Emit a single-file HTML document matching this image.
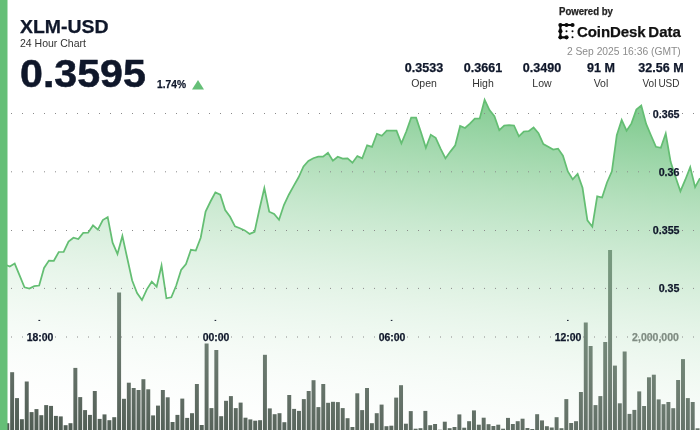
<!DOCTYPE html>
<html><head><meta charset="utf-8"><style>
html,body{margin:0;padding:0;background:#fff;}
body{width:700px;height:430px;position:relative;overflow:hidden;font-family:"Liberation Sans",sans-serif;color:#0f172a;}
.t{position:absolute;white-space:nowrap;line-height:1;}
#txt{position:absolute;left:0;top:0;width:700px;height:430px;will-change:transform;}
.b{font-weight:bold;-webkit-text-stroke:0.25px currentColor;}
.c{transform:translateX(-50%);}
.r{transform:translateX(-100%);}
.l{transform-origin:0 0;}
svg{position:absolute;left:0;top:0;}
</style></head><body>
<svg width="700" height="430" viewBox="0 0 700 430">
<defs><linearGradient id="g" gradientUnits="userSpaceOnUse" x1="485" y1="100.55" x2="443.3" y2="479.6">
<stop offset="0.0000" stop-color="rgb(101,191,119)" stop-opacity="0.8000"/><stop offset="0.0312" stop-color="rgb(106,193,123)" stop-opacity="0.7750"/><stop offset="0.0625" stop-color="rgb(111,195,128)" stop-opacity="0.7500"/><stop offset="0.0938" stop-color="rgb(115,197,132)" stop-opacity="0.7250"/><stop offset="0.1250" stop-color="rgb(120,199,136)" stop-opacity="0.7000"/><stop offset="0.1562" stop-color="rgb(125,201,140)" stop-opacity="0.6750"/><stop offset="0.1875" stop-color="rgb(130,203,144)" stop-opacity="0.6500"/><stop offset="0.2188" stop-color="rgb(135,205,149)" stop-opacity="0.6250"/><stop offset="0.2500" stop-color="rgb(140,207,153)" stop-opacity="0.6000"/><stop offset="0.2812" stop-color="rgb(144,209,157)" stop-opacity="0.5750"/><stop offset="0.3125" stop-color="rgb(149,211,162)" stop-opacity="0.5500"/><stop offset="0.3438" stop-color="rgb(154,213,166)" stop-opacity="0.5250"/><stop offset="0.3750" stop-color="rgb(159,215,170)" stop-opacity="0.5000"/><stop offset="0.4062" stop-color="rgb(164,217,174)" stop-opacity="0.4750"/><stop offset="0.4375" stop-color="rgb(168,219,178)" stop-opacity="0.4500"/><stop offset="0.4688" stop-color="rgb(173,221,183)" stop-opacity="0.4250"/><stop offset="0.5000" stop-color="rgb(178,223,187)" stop-opacity="0.4000"/><stop offset="0.5312" stop-color="rgb(183,225,191)" stop-opacity="0.3750"/><stop offset="0.5625" stop-color="rgb(188,227,196)" stop-opacity="0.3500"/><stop offset="0.5938" stop-color="rgb(192,229,200)" stop-opacity="0.3250"/><stop offset="0.6250" stop-color="rgb(197,231,204)" stop-opacity="0.3000"/><stop offset="0.6562" stop-color="rgb(202,233,208)" stop-opacity="0.2750"/><stop offset="0.6875" stop-color="rgb(207,235,212)" stop-opacity="0.2500"/><stop offset="0.7188" stop-color="rgb(212,237,217)" stop-opacity="0.2250"/><stop offset="0.7500" stop-color="rgb(216,239,221)" stop-opacity="0.2000"/><stop offset="0.7812" stop-color="rgb(221,241,225)" stop-opacity="0.1750"/><stop offset="0.8125" stop-color="rgb(226,243,230)" stop-opacity="0.1500"/><stop offset="0.8438" stop-color="rgb(231,245,234)" stop-opacity="0.1250"/><stop offset="0.8750" stop-color="rgb(236,247,238)" stop-opacity="0.1000"/><stop offset="0.9062" stop-color="rgb(241,249,242)" stop-opacity="0.0750"/><stop offset="0.9375" stop-color="rgb(245,251,246)" stop-opacity="0.0500"/><stop offset="0.9688" stop-color="rgb(250,253,251)" stop-opacity="0.0250"/><stop offset="1.0000" stop-color="rgb(255,255,255)" stop-opacity="0.0000"/></linearGradient></defs>
<g fill="#4e5b52"><rect x="0.45" y="420.00" width="3.96" height="10.00"/><rect x="5.31" y="423.20" width="3.96" height="6.80"/><rect x="10.17" y="372.20" width="3.96" height="57.80"/><rect x="15.03" y="398.10" width="3.96" height="31.90"/><rect x="19.89" y="419.20" width="3.96" height="10.80"/><rect x="24.76" y="381.50" width="3.96" height="48.50"/><rect x="29.62" y="412.10" width="3.96" height="17.90"/><rect x="34.48" y="409.10" width="3.96" height="20.90"/><rect x="39.34" y="415.20" width="3.96" height="14.80"/><rect x="44.20" y="405.10" width="3.96" height="24.90"/><rect x="49.06" y="405.90" width="3.96" height="24.10"/><rect x="53.92" y="415.90" width="3.96" height="14.10"/><rect x="58.78" y="416.40" width="3.96" height="13.60"/><rect x="63.64" y="425.20" width="3.96" height="4.80"/><rect x="68.51" y="423.20" width="3.96" height="6.80"/><rect x="73.37" y="367.90" width="3.96" height="62.10"/><rect x="78.23" y="397.10" width="3.96" height="32.90"/><rect x="83.09" y="410.10" width="3.96" height="19.90"/><rect x="87.95" y="414.90" width="3.96" height="15.10"/><rect x="92.81" y="391.00" width="3.96" height="39.00"/><rect x="97.67" y="418.90" width="3.96" height="11.10"/><rect x="102.53" y="414.40" width="3.96" height="15.60"/><rect x="107.39" y="420.20" width="3.96" height="9.80"/><rect x="112.26" y="417.20" width="3.96" height="12.80"/><rect x="117.12" y="292.50" width="3.96" height="137.50"/><rect x="121.98" y="398.80" width="3.96" height="31.20"/><rect x="126.84" y="382.70" width="3.96" height="47.30"/><rect x="131.70" y="388.00" width="3.96" height="42.00"/><rect x="136.56" y="390.00" width="3.96" height="40.00"/><rect x="141.42" y="379.20" width="3.96" height="50.80"/><rect x="146.28" y="389.30" width="3.96" height="40.70"/><rect x="151.14" y="415.40" width="3.96" height="14.60"/><rect x="156.01" y="405.60" width="3.96" height="24.40"/><rect x="160.87" y="390.00" width="3.96" height="40.00"/><rect x="165.73" y="397.30" width="3.96" height="32.70"/><rect x="170.59" y="422.00" width="3.96" height="8.00"/><rect x="175.45" y="414.90" width="3.96" height="15.10"/><rect x="180.31" y="398.60" width="3.96" height="31.40"/><rect x="185.17" y="417.90" width="3.96" height="12.10"/><rect x="190.03" y="413.20" width="3.96" height="16.80"/><rect x="194.89" y="384.00" width="3.96" height="46.00"/><rect x="199.76" y="425.00" width="3.96" height="5.00"/><rect x="204.62" y="343.50" width="3.96" height="86.50"/><rect x="209.48" y="408.10" width="3.96" height="21.90"/><rect x="214.34" y="350.00" width="3.96" height="80.00"/><rect x="219.20" y="416.20" width="3.96" height="13.80"/><rect x="224.06" y="400.80" width="3.96" height="29.20"/><rect x="228.92" y="396.10" width="3.96" height="33.90"/><rect x="233.78" y="408.10" width="3.96" height="21.90"/><rect x="238.64" y="402.60" width="3.96" height="27.40"/><rect x="243.51" y="417.70" width="3.96" height="12.30"/><rect x="248.37" y="419.40" width="3.96" height="10.60"/><rect x="253.23" y="420.70" width="3.96" height="9.30"/><rect x="258.09" y="420.20" width="3.96" height="9.80"/><rect x="262.95" y="354.80" width="3.96" height="75.20"/><rect x="267.81" y="408.40" width="3.96" height="21.60"/><rect x="272.67" y="414.20" width="3.96" height="15.80"/><rect x="277.53" y="413.20" width="3.96" height="16.80"/><rect x="282.39" y="422.20" width="3.96" height="7.80"/><rect x="287.26" y="395.00" width="3.96" height="35.00"/><rect x="292.12" y="408.90" width="3.96" height="21.10"/><rect x="296.98" y="410.90" width="3.96" height="19.10"/><rect x="301.84" y="399.10" width="3.96" height="30.90"/><rect x="306.70" y="391.00" width="3.96" height="39.00"/><rect x="311.56" y="380.20" width="3.96" height="49.80"/><rect x="316.42" y="407.10" width="3.96" height="22.90"/><rect x="321.28" y="384.00" width="3.96" height="46.00"/><rect x="326.14" y="402.80" width="3.96" height="27.20"/><rect x="331.01" y="401.80" width="3.96" height="28.20"/><rect x="335.87" y="402.10" width="3.96" height="27.90"/><rect x="340.73" y="408.10" width="3.96" height="21.90"/><rect x="345.59" y="418.20" width="3.96" height="11.80"/><rect x="350.45" y="427.00" width="3.96" height="3.00"/><rect x="355.31" y="393.30" width="3.96" height="36.70"/><rect x="360.17" y="410.10" width="3.96" height="19.90"/><rect x="365.03" y="388.00" width="3.96" height="42.00"/><rect x="369.89" y="423.20" width="3.96" height="6.80"/><rect x="374.76" y="413.20" width="3.96" height="16.80"/><rect x="379.62" y="404.60" width="3.96" height="25.40"/><rect x="384.48" y="426.20" width="3.96" height="3.80"/><rect x="389.34" y="425.70" width="3.96" height="4.30"/><rect x="394.20" y="397.60" width="3.96" height="32.40"/><rect x="399.06" y="385.20" width="3.96" height="44.80"/><rect x="403.92" y="423.70" width="3.96" height="6.30"/><rect x="408.78" y="411.10" width="3.96" height="18.90"/><rect x="413.64" y="428.70" width="3.96" height="1.30"/><rect x="418.51" y="428.20" width="3.96" height="1.80"/><rect x="423.37" y="410.90" width="3.96" height="19.10"/><rect x="428.23" y="425.20" width="3.96" height="4.80"/><rect x="433.09" y="424.00" width="3.96" height="6.00"/><rect x="437.95" y="429.70" width="3.96" height="0.30"/><rect x="442.81" y="421.70" width="3.96" height="8.30"/><rect x="447.67" y="428.20" width="3.96" height="1.80"/><rect x="452.53" y="427.00" width="3.96" height="3.00"/><rect x="457.39" y="414.40" width="3.96" height="15.60"/><rect x="462.26" y="427.70" width="3.96" height="2.30"/><rect x="467.12" y="421.20" width="3.96" height="8.80"/><rect x="471.98" y="410.40" width="3.96" height="19.60"/><rect x="476.84" y="424.70" width="3.96" height="5.30"/><rect x="481.70" y="417.70" width="3.96" height="12.30"/><rect x="486.56" y="424.20" width="3.96" height="5.80"/><rect x="491.42" y="426.00" width="3.96" height="4.00"/><rect x="496.28" y="424.70" width="3.96" height="5.30"/><rect x="501.14" y="428.70" width="3.96" height="1.30"/><rect x="506.01" y="417.90" width="3.96" height="12.10"/><rect x="510.87" y="424.00" width="3.96" height="6.00"/><rect x="515.73" y="421.20" width="3.96" height="8.80"/><rect x="520.59" y="418.70" width="3.96" height="11.30"/><rect x="525.45" y="428.00" width="3.96" height="2.00"/><rect x="530.31" y="429.00" width="3.96" height="1.00"/><rect x="535.17" y="414.20" width="3.96" height="15.80"/><rect x="540.03" y="420.40" width="3.96" height="9.60"/><rect x="544.89" y="426.20" width="3.96" height="3.80"/><rect x="549.76" y="427.50" width="3.96" height="2.50"/><rect x="554.62" y="417.20" width="3.96" height="12.80"/><rect x="559.48" y="428.20" width="3.96" height="1.80"/><rect x="564.34" y="399.10" width="3.96" height="30.90"/><rect x="569.20" y="423.00" width="3.96" height="7.00"/><rect x="574.06" y="421.20" width="3.96" height="8.80"/><rect x="578.92" y="392.00" width="3.96" height="38.00"/><rect x="583.78" y="322.50" width="3.96" height="107.50"/><rect x="588.64" y="346.00" width="3.96" height="84.00"/><rect x="593.51" y="405.10" width="3.96" height="24.90"/><rect x="598.37" y="396.10" width="3.96" height="33.90"/><rect x="603.23" y="342.00" width="3.96" height="88.00"/><rect x="608.09" y="250.00" width="3.96" height="180.00"/><rect x="612.95" y="365.60" width="3.96" height="64.40"/><rect x="617.81" y="403.30" width="3.96" height="26.70"/><rect x="622.67" y="351.50" width="3.96" height="78.50"/><rect x="627.53" y="413.90" width="3.96" height="16.10"/><rect x="632.39" y="409.90" width="3.96" height="20.10"/><rect x="637.26" y="391.40" width="3.96" height="38.60"/><rect x="642.12" y="406.00" width="3.96" height="24.00"/><rect x="646.98" y="377.30" width="3.96" height="52.70"/><rect x="651.84" y="374.70" width="3.96" height="55.30"/><rect x="656.70" y="399.40" width="3.96" height="30.60"/><rect x="661.56" y="404.20" width="3.96" height="25.80"/><rect x="666.42" y="402.00" width="3.96" height="28.00"/><rect x="671.28" y="408.20" width="3.96" height="21.80"/><rect x="676.14" y="380.00" width="3.96" height="50.00"/><rect x="681.01" y="359.10" width="3.96" height="70.90"/><rect x="685.87" y="398.10" width="3.96" height="31.90"/><rect x="690.73" y="402.00" width="3.96" height="28.00"/><rect x="695.59" y="428.30" width="3.96" height="1.70"/></g>
<path d="M0.00 263.50 L4.90 264.50 L9.79 266.60 L14.69 263.60 L19.58 275.40 L24.48 287.30 L29.37 288.50 L34.27 286.20 L39.16 285.50 L44.06 267.90 L48.95 260.60 L53.85 260.80 L58.74 252.00 L63.64 251.80 L68.53 241.50 L73.43 237.70 L78.32 239.00 L83.22 232.90 L88.11 232.70 L93.01 225.40 L97.90 229.70 L102.80 220.10 L107.69 217.10 L112.59 242.70 L117.48 254.00 L122.38 235.90 L127.27 258.30 L132.17 280.50 L137.06 293.00 L141.96 300.00 L146.85 289.30 L151.75 281.70 L156.64 286.70 L161.54 265.50 L166.43 298.30 L171.33 297.30 L176.22 285.50 L181.12 269.90 L186.01 264.10 L190.91 249.80 L195.80 250.50 L200.70 237.70 L205.59 211.50 L210.49 201.50 L215.38 192.40 L220.28 194.70 L225.17 210.00 L230.07 216.80 L234.97 226.30 L239.86 228.20 L244.76 230.40 L249.65 233.90 L254.55 231.90 L259.44 209.30 L264.34 188.00 L269.23 211.70 L274.13 214.00 L279.02 219.80 L283.92 205.00 L288.81 194.70 L293.71 185.90 L298.60 177.30 L303.50 166.50 L308.39 161.00 L313.29 158.20 L318.18 156.70 L323.08 156.70 L327.97 152.70 L332.87 160.70 L337.76 156.70 L342.66 158.60 L347.55 158.40 L352.45 162.70 L357.34 156.10 L362.24 158.40 L367.13 145.30 L372.03 146.80 L376.92 133.80 L381.82 135.80 L386.71 130.70 L391.61 130.70 L396.50 130.70 L401.40 143.30 L406.29 131.50 L411.19 117.70 L416.08 117.70 L420.98 132.20 L425.87 147.80 L430.77 134.80 L435.66 137.80 L440.56 148.60 L445.45 158.40 L450.35 151.60 L455.24 145.30 L460.14 126.00 L465.03 128.00 L469.93 123.70 L474.83 118.70 L479.72 118.40 L484.62 99.70 L489.51 110.10 L494.41 116.20 L499.30 130.20 L504.20 125.50 L509.09 125.20 L513.99 125.50 L518.88 136.30 L523.78 131.50 L528.67 131.20 L533.57 127.50 L538.46 133.20 L543.36 144.10 L548.25 146.80 L553.15 149.60 L558.04 148.60 L562.94 155.70 L567.83 171.50 L572.73 179.40 L577.62 174.00 L582.52 187.80 L587.41 220.40 L592.31 226.70 L597.20 196.30 L602.10 197.50 L606.99 182.50 L611.89 171.30 L616.78 135.30 L621.68 120.00 L626.57 130.70 L631.47 123.40 L636.36 109.60 L641.26 105.60 L646.15 123.90 L651.05 135.50 L655.94 146.80 L660.84 147.80 L665.73 133.50 L670.63 161.80 L675.52 177.00 L680.42 191.20 L685.31 179.70 L690.21 167.10 L695.10 187.20 L700.00 178.20 L700 430 L0 430 Z" fill="url(#g)"/>
<path d="M0.00 263.50 L4.90 264.50 L9.79 266.60 L14.69 263.60 L19.58 275.40 L24.48 287.30 L29.37 288.50 L34.27 286.20 L39.16 285.50 L44.06 267.90 L48.95 260.60 L53.85 260.80 L58.74 252.00 L63.64 251.80 L68.53 241.50 L73.43 237.70 L78.32 239.00 L83.22 232.90 L88.11 232.70 L93.01 225.40 L97.90 229.70 L102.80 220.10 L107.69 217.10 L112.59 242.70 L117.48 254.00 L122.38 235.90 L127.27 258.30 L132.17 280.50 L137.06 293.00 L141.96 300.00 L146.85 289.30 L151.75 281.70 L156.64 286.70 L161.54 265.50 L166.43 298.30 L171.33 297.30 L176.22 285.50 L181.12 269.90 L186.01 264.10 L190.91 249.80 L195.80 250.50 L200.70 237.70 L205.59 211.50 L210.49 201.50 L215.38 192.40 L220.28 194.70 L225.17 210.00 L230.07 216.80 L234.97 226.30 L239.86 228.20 L244.76 230.40 L249.65 233.90 L254.55 231.90 L259.44 209.30 L264.34 188.00 L269.23 211.70 L274.13 214.00 L279.02 219.80 L283.92 205.00 L288.81 194.70 L293.71 185.90 L298.60 177.30 L303.50 166.50 L308.39 161.00 L313.29 158.20 L318.18 156.70 L323.08 156.70 L327.97 152.70 L332.87 160.70 L337.76 156.70 L342.66 158.60 L347.55 158.40 L352.45 162.70 L357.34 156.10 L362.24 158.40 L367.13 145.30 L372.03 146.80 L376.92 133.80 L381.82 135.80 L386.71 130.70 L391.61 130.70 L396.50 130.70 L401.40 143.30 L406.29 131.50 L411.19 117.70 L416.08 117.70 L420.98 132.20 L425.87 147.80 L430.77 134.80 L435.66 137.80 L440.56 148.60 L445.45 158.40 L450.35 151.60 L455.24 145.30 L460.14 126.00 L465.03 128.00 L469.93 123.70 L474.83 118.70 L479.72 118.40 L484.62 99.70 L489.51 110.10 L494.41 116.20 L499.30 130.20 L504.20 125.50 L509.09 125.20 L513.99 125.50 L518.88 136.30 L523.78 131.50 L528.67 131.20 L533.57 127.50 L538.46 133.20 L543.36 144.10 L548.25 146.80 L553.15 149.60 L558.04 148.60 L562.94 155.70 L567.83 171.50 L572.73 179.40 L577.62 174.00 L582.52 187.80 L587.41 220.40 L592.31 226.70 L597.20 196.30 L602.10 197.50 L606.99 182.50 L611.89 171.30 L616.78 135.30 L621.68 120.00 L626.57 130.70 L631.47 123.40 L636.36 109.60 L641.26 105.60 L646.15 123.90 L651.05 135.50 L655.94 146.80 L660.84 147.80 L665.73 133.50 L670.63 161.80 L675.52 177.00 L680.42 191.20 L685.31 179.70 L690.21 167.10 L695.10 187.20 L700.00 178.20" fill="none" stroke="#64be73" stroke-width="1.75" stroke-linejoin="miter" stroke-miterlimit="10"/>
<line x1="11" x2="700" y1="113.5" y2="113.5" stroke="#8a8a8a" stroke-width="1" stroke-dasharray="1 10"/><line x1="11" x2="700" y1="171.8" y2="171.8" stroke="#8a8a8a" stroke-width="1" stroke-dasharray="1 10"/><line x1="11" x2="700" y1="230.5" y2="230.5" stroke="#8a8a8a" stroke-width="1" stroke-dasharray="1 10"/><line x1="11" x2="700" y1="288.4" y2="288.4" stroke="#8a8a8a" stroke-width="1" stroke-dasharray="1 10"/><line x1="11" x2="700" y1="337" y2="337" stroke="#8a8a8a" stroke-width="1" stroke-dasharray="1 10"/>
<rect x="0" y="0" width="7.5" height="430" fill="#65bf77"/>
<g fill="#0f172a"><rect x="38.4" y="319.9" width="1.8" height="1"/><rect x="214.6" y="319.9" width="1.6" height="1"/><rect x="390.8" y="319.9" width="1.6" height="1"/><rect x="567" y="319.9" width="1.6" height="1"/></g>
<polygon points="192,89.5 204,89.5 198,80" fill="#65bf77"/>
<g fill="#0a0a0a">
<path d="M572.5 25 H560.4 V37.3 H566.5" fill="none" stroke="#0a0a0a" stroke-width="2.2" stroke-linecap="round" stroke-linejoin="round"/>
<circle cx="560.4" cy="25" r="2.1"/><circle cx="566.5" cy="25" r="2.1"/><circle cx="572.5" cy="25" r="2.1"/>
<circle cx="560.4" cy="31.15" r="2.1"/><circle cx="560.4" cy="37.3" r="2.1"/><circle cx="566.5" cy="37.3" r="2.1"/>
<circle cx="566.5" cy="31.15" r="1"/><circle cx="572.5" cy="31.15" r="1"/><circle cx="572.5" cy="37.3" r="1"/>
</g>
</svg>
<div id="txt">
<div class="t b" id="title" style="left:20px;top:18px;font-size:18px;-webkit-text-stroke:0.25px #0f172a;transform:scaleX(1.08);transform-origin:0 0;">XLM-USD</div>
<div class="t" id="sub" style="left:20px;top:38px;font-size:10.5px;color:#333;">24 Hour Chart</div>
<div class="t b" id="price" style="left:20px;top:55.3px;font-size:38px;-webkit-text-stroke:0.5px #0f172a;transform:scaleX(1.083);transform-origin:0 0;">0.3595</div>
<div class="t b" id="pct" style="left:156.6px;top:79px;font-size:11px;transform:scaleX(0.93);transform-origin:0 0;">1.74%</div>
<div class="t b" id="pow" style="left:558.5px;top:7.4px;font-size:10px;color:#222;transform:scaleX(0.96);transform-origin:0 0;">Powered by</div>
<div class="t b" id="cd" style="left:577.3px;top:23.6px;font-size:15.5px;color:#111;transform:scaleX(0.97);transform-origin:0 0;"><span style="letter-spacing:-0.1px">CoinDesk</span><span style="margin-left:2.8px">Data</span></div>
<div class="t" id="date" style="right:19.5px;top:46.2px;font-size:11px;color:#8c8c8c;transform:scaleX(0.935);transform-origin:100% 0;">2 Sep 2025 16:36 (GMT)</div>
<div class="t b" id="v0" style="left:374px;width:100px;text-align:center;top:62.4px;font-size:12px;transform:scaleX(1.045);">0.3533</div>
<div class="t" id="l0" style="left:374px;width:100px;text-align:center;top:78.2px;font-size:10.5px;color:#333;">Open</div>
<div class="t b" id="v1" style="left:433px;width:100px;text-align:center;top:62.4px;font-size:12px;transform:scaleX(1.045);">0.3661</div>
<div class="t" id="l1" style="left:433px;width:100px;text-align:center;top:78.2px;font-size:10.5px;color:#333;">High</div>
<div class="t b" id="v2" style="left:492px;width:100px;text-align:center;top:62.4px;font-size:12px;transform:scaleX(1.045);">0.3490</div>
<div class="t" id="l2" style="left:492px;width:100px;text-align:center;top:78.2px;font-size:10.5px;color:#333;">Low</div>
<div class="t b" id="v3" style="left:551px;width:100px;text-align:center;top:62.4px;font-size:12px;transform:scaleX(1.045);">91 M</div>
<div class="t" id="l3" style="left:551px;width:100px;text-align:center;top:78.2px;font-size:10.5px;color:#333;">Vol</div>
<div class="t b" id="v4" style="left:610.5px;width:100px;text-align:center;top:62.4px;font-size:12px;transform:scaleX(1.045);">32.56 M</div>
<div class="t" id="l4" style="left:610.5px;width:100px;text-align:center;top:78.2px;font-size:10.5px;color:#333;word-spacing:-0.8px;transform:scaleX(0.95);">Vol USD</div>
<div class="t b" id="y0" style="right:20.3px;top:108.5px;font-size:11px;transform:scaleX(0.97);transform-origin:100% 0;">0.365</div>
<div class="t b" id="y1" style="right:20.3px;top:166.7px;font-size:11px;transform:scaleX(0.97);transform-origin:100% 0;">0.36</div>
<div class="t b" id="y2" style="right:20.3px;top:225.0px;font-size:11px;transform:scaleX(0.97);transform-origin:100% 0;">0.355</div>
<div class="t b" id="y3" style="right:20.3px;top:283.3px;font-size:11px;transform:scaleX(0.97);transform-origin:100% 0;">0.35</div>
<div class="t b" id="x0" style="left:-10.200000000000003px;width:100px;text-align:center;top:331.6px;font-size:11px;transform:scaleX(0.95);">18:00</div>
<div class="t b" id="x1" style="left:165.8px;width:100px;text-align:center;top:331.6px;font-size:11px;transform:scaleX(0.95);">00:00</div>
<div class="t b" id="x2" style="left:341.9px;width:100px;text-align:center;top:331.6px;font-size:11px;transform:scaleX(0.95);">06:00</div>
<div class="t b" id="x3" style="left:518.1px;width:100px;text-align:center;top:331.6px;font-size:11px;transform:scaleX(0.95);">12:00</div>
<div class="t b" id="vol" style="right:21px;top:331.6px;font-size:11px;color:#7f8c82;transform:scaleX(0.957);transform-origin:100% 0;">2,000,000</div>
</div>
</body></html>
